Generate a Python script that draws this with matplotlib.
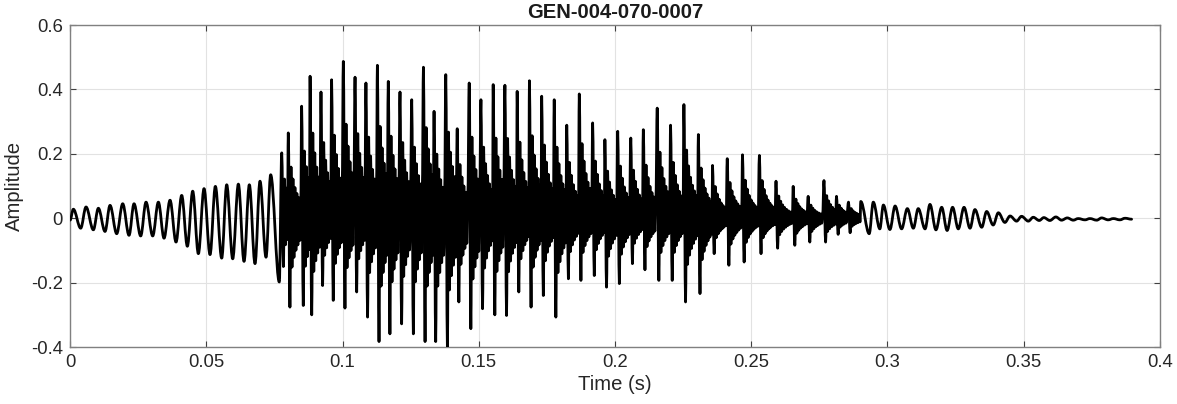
import numpy as np
import matplotlib.pyplot as plt
from matplotlib.path import Path
from matplotlib.patches import PathPatch

plt.rcParams['font.family'] = ['Liberation Sans', 'DejaVu Sans']

# --- waveform extremes ---
# onset: low-frequency part before the voiced pulses (t, value)
onset_t = [0.0, 0.00122, 0.00391, 0.00587, 0.00856, 0.01040, 0.01284, 0.01468,
           0.01713, 0.01933, 0.02165, 0.02349, 0.02593, 0.02789, 0.03034, 0.03242,
           0.03450, 0.03670, 0.03890, 0.04098, 0.04306, 0.04502, 0.04710, 0.04918,
           0.05138, 0.05334, 0.05566, 0.05750, 0.05970, 0.06178, 0.06386, 0.06581,
           0.06789, 0.06972, 0.07193, 0.07364, 0.0768]
onset_v = [-0.006, 0.028, -0.031, 0.035, -0.036, 0.031, -0.041, 0.040,
           -0.048, 0.045, -0.053, 0.045, -0.055, 0.050, -0.055, 0.050,
           -0.062, 0.056, -0.074, 0.071, -0.087, 0.084, -0.110, 0.092,
           -0.113, 0.099, -0.124, 0.104, -0.126, 0.106, -0.134, 0.104,
           -0.141, 0.115, -0.121, 0.135, -0.198]

# voiced pulses: spike time, spike top, following trough
pulse_t = [0.0777, 0.0801, 0.0850, 0.0881, 0.0921, 0.0960, 0.1003, 0.1046,
           0.1086, 0.1128, 0.1168, 0.1211, 0.1254, 0.1297, 0.1336, 0.1379,
           0.1421, 0.1465, 0.1508, 0.1553, 0.1596, 0.1641, 0.1686, 0.1731,
           0.1777, 0.1823, 0.1869, 0.1918, 0.1963, 0.2010, 0.2058, 0.2104,
           0.2155, 0.2204, 0.2253, 0.2306, 0.2358, 0.2412, 0.2468, 0.2530,
           0.2591, 0.2654, 0.2709, 0.2767, 0.2813, 0.2857]
pulse_top = [0.203, 0.265, 0.348, 0.441, 0.392, 0.430, 0.487, 0.438,
             0.420, 0.475, 0.425, 0.392, 0.368, 0.469, 0.332, 0.446,
             0.278, 0.420, 0.368, 0.415, 0.413, 0.394, 0.427, 0.379,
             0.368, 0.289, 0.386, 0.296, 0.244, 0.270, 0.249, 0.275,
             0.342, 0.289, 0.353, 0.260, 0.164, 0.185, 0.197, 0.195,
             0.115, 0.099, 0.068, 0.117, 0.068, 0.050]
pulse_low = [-0.150, -0.276, -0.271, -0.300, -0.209, -0.255, -0.279, -0.229,
             -0.307, -0.383, -0.359, -0.328, -0.359, -0.383, -0.383, -0.405,
             -0.260, -0.343, -0.281, -0.300, -0.302, -0.229, -0.276, -0.240,
             -0.307, -0.188, -0.193, -0.178, -0.214, -0.203, -0.141, -0.160,
             -0.193, -0.193, -0.260, -0.234, -0.110, -0.146, -0.136, -0.110,
             -0.093, -0.084, -0.074, -0.074, -0.050, -0.045]

# decay of the ringing between pulses, relative to spike top / trough
ring_up = [0.6, 0.46, 0.36, 0.29, 0.24, 0.2, 0.17, 0.15, 0.13]
ring_dn = [0.55, 0.44, 0.36, 0.3, 0.25, 0.21, 0.18, 0.16, 0.14]

# release: the fading oscillation after the last pulse
tail_t = [0.2902, 0.2933, 0.2948, 0.2972, 0.2985, 0.3009, 0.3028, 0.3052,
          0.3073, 0.3095, 0.3113, 0.3138, 0.3156, 0.3178, 0.3199, 0.3219,
          0.3239, 0.3260, 0.3281, 0.3303, 0.3321, 0.3346, 0.3364, 0.3388,
          0.3407, 0.3431, 0.3450, 0.3474, 0.3492, 0.3517, 0.3535, 0.3557,
          0.3574, 0.3596, 0.3618, 0.3639, 0.3660, 0.3682, 0.3700, 0.3725,
          0.3743, 0.3768, 0.3786, 0.3810, 0.3829, 0.3853, 0.3872, 0.3896]
tail_v = [0.052, -0.048, 0.050, -0.033, 0.041, -0.035, 0.038, -0.033,
          0.030, -0.031, 0.030, -0.033, 0.043, -0.036, 0.034, -0.038,
          0.034, -0.033, 0.034, -0.031, 0.027, -0.028, 0.021, -0.021,
          0.017, -0.013, 0.007, -0.009, 0.006, -0.009, 0.003, -0.007,
          0.002, -0.007, 0.004, -0.006, 0.001, -0.006, -0.001, -0.005,
          -0.001, -0.006, 0.001, -0.005, -0.001, -0.005, 0.000, -0.003]


def pulse_points(times, tops, lows, t_end):
    ts, vs = [], []
    for k in range(len(times)):
        t0 = times[k]
        t1 = times[k + 1] if k + 1 < len(times) else t_end
        ts += [t0, t0 + 0.0006]
        vs += [tops[k], lows[k]]
        for j, tr in enumerate(np.arange(t0 + 0.001, t1 - 0.0002, 0.00036)):
            i = min(j // 2, len(ring_up) - 1)
            ts.append(tr)
            vs.append(tops[k] * ring_up[i] if j % 2 == 0 else lows[k] * ring_dn[i])
    return ts, vs


def smooth_path(t, v):
    # bezier through extremes with flat tangents, like a sampled wave
    verts = [(t[0], v[0])]
    codes = [Path.MOVETO]
    for i in range(len(t) - 1):
        h = 0.36 * (t[i + 1] - t[i])
        verts += [(t[i] + h, v[i]), (t[i + 1] - h, v[i + 1]), (t[i + 1], v[i + 1])]
        codes += [Path.CURVE4] * 3
    return Path(verts, codes)


pt, pv = pulse_points(pulse_t, pulse_top, pulse_low, tail_t[0])
t_all = list(onset_t) + pt + list(tail_t)
v_all = list(onset_v) + pv + list(tail_v)

fig = plt.figure(figsize=(11.77, 4.04), dpi=100)
ax = fig.add_axes([0.0595, 0.141, 0.926, 0.797])

ax.add_patch(PathPatch(smooth_path(t_all, v_all), fill=False, edgecolor='black',
                       lw=2.0, joinstyle='round', capstyle='round', zorder=3))

ax.set_xlim(0, 0.4)
ax.set_ylim(-0.4, 0.6)
xt = np.arange(0, 0.4001, 0.05)
ax.set_xticks(xt)
ax.set_xticklabels(['0', '0.05', '0.1', '0.15', '0.2', '0.25', '0.3', '0.35', '0.4'])
yt = [-0.4, -0.2, 0, 0.2, 0.4, 0.6]
ax.set_yticks(yt)
ax.set_yticklabels(['-0.4', '-0.2', '0', '0.2', '0.4', '0.6'])

ax.grid(True, color='#e2e2e2', lw=0.8, zorder=0)
ax.set_axisbelow(True)
ax.tick_params(direction='in', top=True, right=True, length=4, width=0.8,
               color='#404040', labelcolor='#262626', labelsize=13.3, pad=5)
for s in ax.spines.values():
    s.set_color('#808080')
    s.set_linewidth(1.0)

ax.set_title('GEN-004-070-0007', fontsize=14.6, fontweight='bold', color='#1a1a1a', pad=5)
ax.set_xlabel('Time (s)', fontsize=14.6, color='#262626', labelpad=3)
ax.set_ylabel('Amplitude', fontsize=14.6, color='#262626', labelpad=5)

fig.savefig('out.png', dpi=100)
